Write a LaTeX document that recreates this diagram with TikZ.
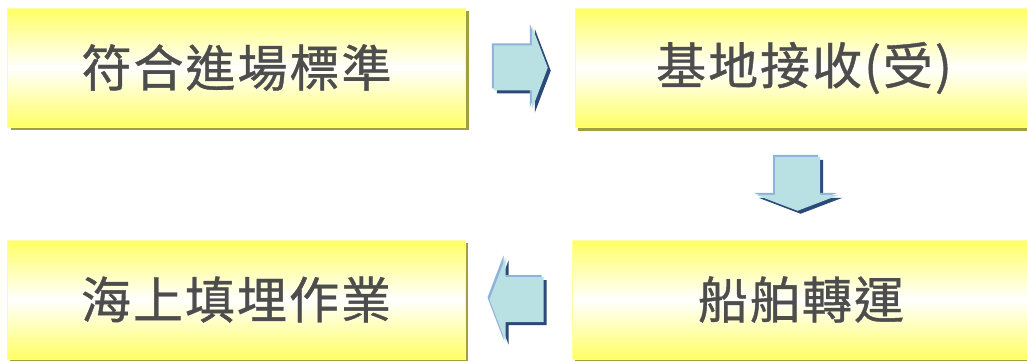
\documentclass[tikz,border=0pt]{standalone}
\usepackage{fontspec}
\newfontfamily\cjk[FakeBold=0.8,LetterSpace=4]{Noto Sans CJK TC}
\usetikzlibrary{calc,shadows}
\definecolor{boxyellow}{RGB}{255,255,100}
\definecolor{boxedge}{RGB}{255,255,160}
\definecolor{boxshadow}{RGB}{160,160,64}
\definecolor{txtgray}{RGB}{77,77,77}
\definecolor{arrfill}{RGB}{185,224,227}
\definecolor{arrlight}{RGB}{143,178,216}
\definecolor{arrdark}{RGB}{44,74,120}
\tikzset{
  stagebox/.style={minimum width=458pt, minimum height=119pt, inner sep=0pt,
    top color=boxyellow, bottom color=boxyellow, middle color=white,
    draw=boxedge, line width=1pt,
    text=txtgray, font=\cjk\fontsize{50}{50}\selectfont,
    general shadow={fill=boxshadow, shadow xshift=3pt, shadow yshift=-3pt}},
}
\newcommand\stagetext[1]{\raisebox{-5pt}{#1}}
\newcommand\blockarrow[2]{%
  \foreach \dx/\dy/\col in {3/3/arrdark, -2/-2/arrlight, 0/0/arrfill}{
    \fill[\col, shift={#1}, shift={(\dx,\dy)}, rotate=#2]
      (-27,-22.5) -- (11,-22.5) -- (11,-42) -- (27,0) -- (11,42) -- (11,22.5) -- (-27,22.5) -- cycle;
  }}
\begin{document}
\begin{tikzpicture}[x=1pt,y=-1pt]
\useasboundingbox (0,0) rectangle (1027,360);
\fill[white] (0,0) rectangle (1027,360);
\clip (0,0) rectangle (1027,360);
\node[stagebox] (box1) at (236.5,67.5) {\stagetext{符合進場標準}};
\node[stagebox] (box2) at (804,68) {\stagetext{基地接收(受)}};
\node[stagebox] (box3) at (801,299.5) {\stagetext{船舶轉運}};
\node[stagebox] (box4) at (236,299.5) {\stagetext{海上填埋作業}};
\blockarrow{($(box1.east)!0.5!(box2.west)+(0.5,0)$)}{0}
\blockarrow{($(box2.south)!0.5!(box3.north)+(-5,0)$)}{-90}
\blockarrow{($(box3.west)!0.5!(box4.east)+(-2,0)$)}{180}
\end{tikzpicture}
\end{document}
